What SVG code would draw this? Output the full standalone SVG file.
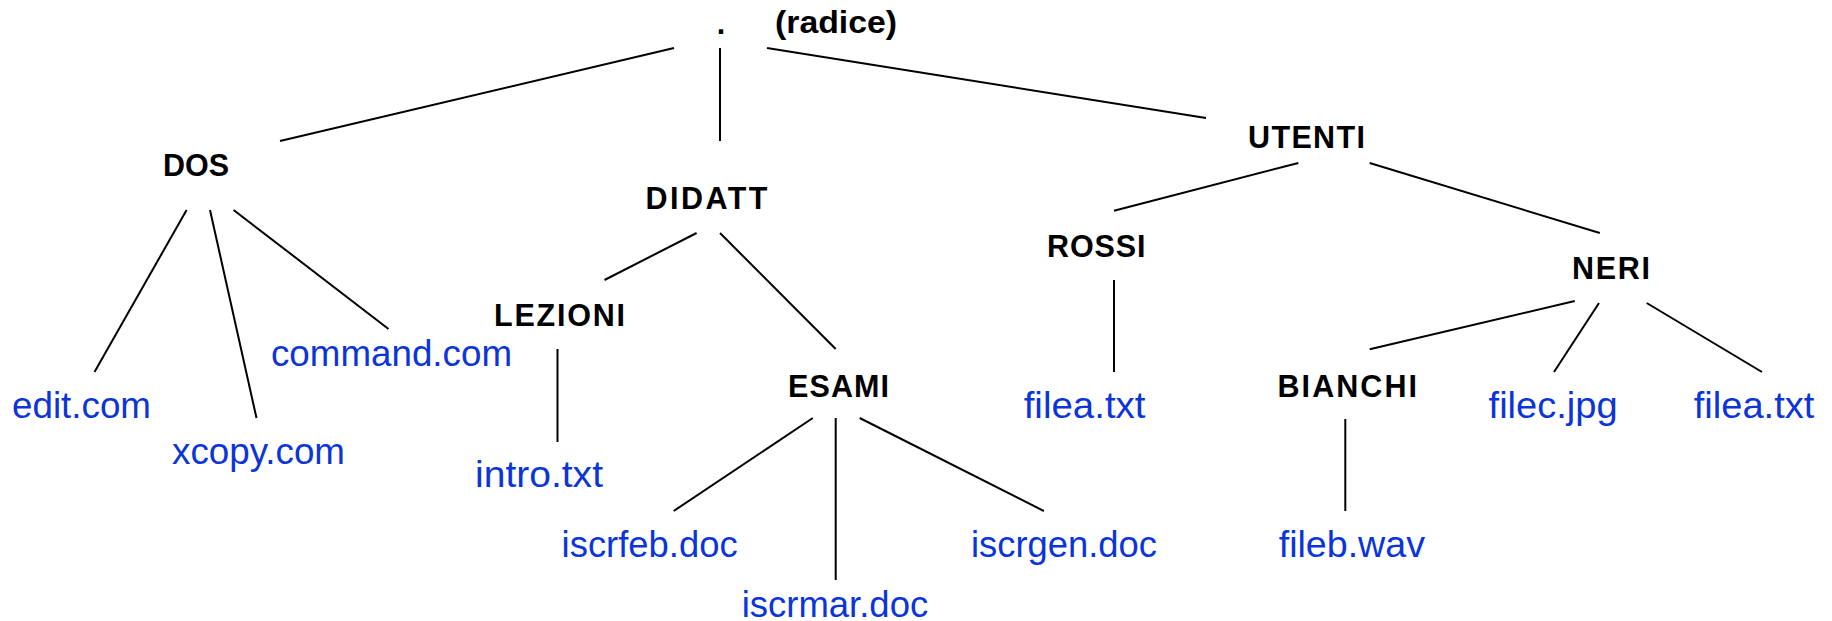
<svg xmlns="http://www.w3.org/2000/svg" width="1832" height="621" viewBox="0 0 1832 621">
  <style>
    .dir { font-family: "Liberation Sans", Arial, sans-serif; font-weight: bold; font-size: 30.5px; fill: #000; }
    .file { font-family: "Liberation Sans", Arial, sans-serif; font-size: 37px; fill: #0b35d9; }
    #connectors line { stroke: #000; stroke-width: 2; stroke-linecap: butt; }
  </style>
  <rect width="1832" height="621" fill="#fff"/>

  <g id="connectors">
    <!-- root -->
    <line x1="674" y1="48" x2="280" y2="141"/>
    <line x1="720" y1="48" x2="720" y2="141"/>
    <line x1="767" y1="48" x2="1206" y2="118"/>
    <!-- DOS -->
    <line x1="186.6" y1="210" x2="94.5" y2="372"/>
    <line x1="210" y1="210" x2="256.5" y2="418"/>
    <line x1="233.6" y1="210" x2="388.5" y2="329"/>
    <!-- DIDATT -->
    <line x1="696.6" y1="233" x2="604.5" y2="280"/>
    <line x1="720" y1="233" x2="835.7" y2="349"/>
    <!-- LEZIONI -->
    <line x1="557.5" y1="349" x2="557.5" y2="442"/>
    <!-- ESAMI -->
    <line x1="812.8" y1="418" x2="673.7" y2="511"/>
    <line x1="835.7" y1="418" x2="835.7" y2="580"/>
    <line x1="859.7" y1="418" x2="1043.9" y2="511"/>
    <!-- UTENTI -->
    <line x1="1298.3" y1="163" x2="1114" y2="210.7"/>
    <line x1="1369.7" y1="163" x2="1599.8" y2="233"/>
    <!-- ROSSI -->
    <line x1="1114" y1="280" x2="1114" y2="372"/>
    <!-- NERI -->
    <line x1="1574.8" y1="301" x2="1369.7" y2="349.3"/>
    <line x1="1599" y1="303" x2="1554" y2="372"/>
    <line x1="1646.7" y1="303" x2="1762" y2="372"/>
    <!-- BIANCHI -->
    <line x1="1345.3" y1="419" x2="1345.3" y2="511"/>
  </g>

  <g id="root">
    <text class="dir" x="721" y="34" text-anchor="middle">.</text>
    <text class="dir" x="775" y="33" textLength="122" lengthAdjust="spacingAndGlyphs">(radice)</text>
  </g>
  <g id="dos"><text class="dir" x="163" y="176" textLength="66" lengthAdjust="spacingAndGlyphs">DOS</text></g>
  <g id="didatt"><text class="dir" x="645.5" y="209" textLength="122" lengthAdjust="spacing">DIDATT</text></g>
  <g id="lezioni"><text class="dir" x="494" y="325.5" textLength="131" lengthAdjust="spacing">LEZIONI</text></g>
  <g id="esami"><text class="dir" x="788" y="397" textLength="101" lengthAdjust="spacing">ESAMI</text></g>
  <g id="utenti"><text class="dir" x="1248" y="148" textLength="117" lengthAdjust="spacing">UTENTI</text></g>
  <g id="rossi"><text class="dir" x="1047" y="257" textLength="98.5" lengthAdjust="spacing">ROSSI</text></g>
  <g id="neri"><text class="dir" x="1572" y="279" textLength="78" lengthAdjust="spacing">NERI</text></g>
  <g id="bianchi"><text class="dir" x="1277.5" y="397" textLength="139.5" lengthAdjust="spacing">BIANCHI</text></g>

  <g id="edit-com"><text class="file" x="12" y="418" textLength="139" lengthAdjust="spacingAndGlyphs">edit.com</text></g>
  <g id="xcopy-com"><text class="file" x="172" y="464" textLength="173" lengthAdjust="spacingAndGlyphs">xcopy.com</text></g>
  <g id="command-com"><text class="file" x="271" y="366" textLength="241" lengthAdjust="spacingAndGlyphs">command.com</text></g>
  <g id="intro-txt"><text class="file" x="475" y="487" textLength="128" lengthAdjust="spacingAndGlyphs">intro.txt</text></g>
  <g id="iscrfeb-doc"><text class="file" x="561.6" y="557" textLength="176" lengthAdjust="spacingAndGlyphs">iscrfeb.doc</text></g>
  <g id="iscrmar-doc"><text class="file" x="741.7" y="616.5" textLength="186.5" lengthAdjust="spacingAndGlyphs">iscrmar.doc</text></g>
  <g id="iscrgen-doc"><text class="file" x="971" y="557" textLength="186" lengthAdjust="spacingAndGlyphs">iscrgen.doc</text></g>
  <g id="rossi-filea-txt"><text class="file" x="1023.7" y="418" textLength="121.8" lengthAdjust="spacingAndGlyphs">filea.txt</text></g>
  <g id="fileb-wav"><text class="file" x="1278.7" y="557" textLength="146.3" lengthAdjust="spacingAndGlyphs">fileb.wav</text></g>
  <g id="filec-jpg"><text class="file" x="1488.6" y="418" textLength="129" lengthAdjust="spacingAndGlyphs">filec.jpg</text></g>
  <g id="neri-filea-txt"><text class="file" x="1693.7" y="418" textLength="120.7" lengthAdjust="spacingAndGlyphs">filea.txt</text></g>
</svg>
